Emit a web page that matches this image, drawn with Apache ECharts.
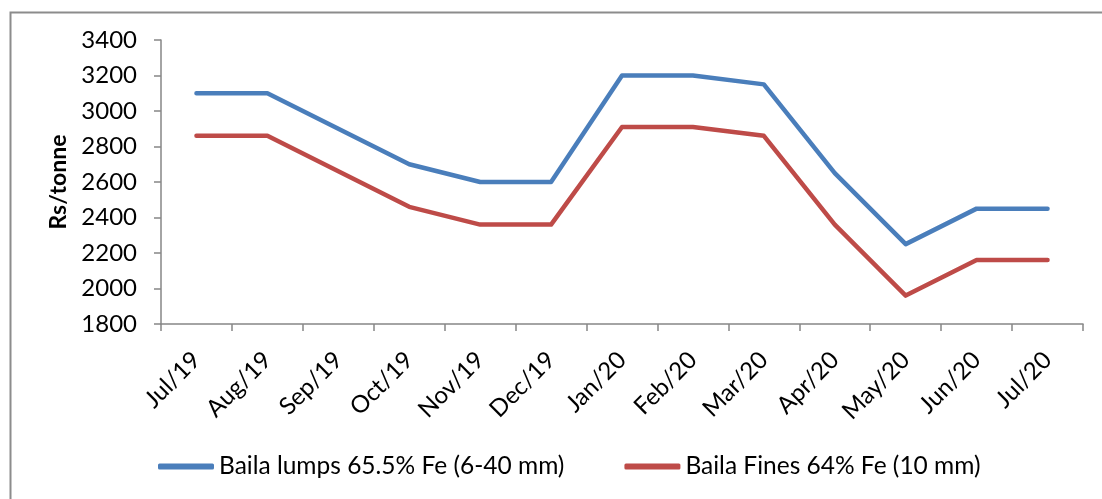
<!DOCTYPE html>
<html>
<head>
<meta charset="utf-8">
<script src="https://cdn.jsdelivr.net/npm/echarts@6/dist/echarts.min.js"></script>
<style>
html,body{margin:0;padding:0;background:#fff;}
#c{width:1102px;height:499px;}
</style>
</head>
<body>
<div id="c"></div>
<script>
var categories = ['Jul/19','Aug/19','Sep/19','Oct/19','Nov/19','Dec/19','Jan/20','Feb/20','Mar/20','Apr/20','May/20','Jun/20','Jul/20'];
var lumps = [3100, 3100, 2900, 2700, 2600, 2600, 3200, 3200, 3150, 2650, 2250, 2450, 2450];
var fines = [2860, 2860, 2660, 2460, 2360, 2360, 2910, 2910, 2860, 2360, 1960, 2160, 2160];
var seriesNames = ['Baila lumps 65.5% Fe (6-40 mm)', 'Baila Fines 64% Fe (10 mm)'];
var yTicks = {min: 1800, max: 3400, interval: 200};

var FONT = 'Lato';
var chart = echarts.init(document.getElementById('c'), null, {renderer: 'canvas'});
chart.setOption({
  animation: false,
  backgroundColor: '#fff',
  graphic: [{
    type: 'rect', left: 8, top: 10, silent: true,
    shape: {width: 1200, height: 600},
    style: {fill: 'none', stroke: '#8c8c8c', lineWidth: 2}
  }],
  grid: {left: 161, right: 19, top: 40, bottom: 175, containLabel: false},
  legend: {
    bottom: 15, left: 153,
    itemWidth: 56, itemHeight: 6, itemGap: 60,
    icon: 'roundRect',
    textStyle: {fontFamily: FONT, fontSize: 24.5, color: '#000'},
    data: seriesNames
  },
  xAxis: {
    type: 'category', data: categories, boundaryGap: true,
    axisLine: {lineStyle: {color: '#868686', width: 1.5}},
    axisTick: {show: true, alignWithLabel: false, length: 7, lineStyle: {color: '#868686', width: 1.5}},
    axisLabel: {rotate: 45, margin: 32, fontFamily: FONT, fontSize: 24, color: '#000', interval: 0},
    splitLine: {show: false}
  },
  yAxis: {
    type: 'value', min: yTicks.min, max: yTicks.max, interval: yTicks.interval,
    name: 'Rs/tonne', nameLocation: 'middle', nameGap: 89, nameRotate: 90,
    nameTextStyle: {fontFamily: FONT, fontSize: 23, fontWeight: 'bold', color: '#000'},
    axisLine: {show: true, lineStyle: {color: '#868686', width: 1.5}},
    axisTick: {show: true, length: 7, lineStyle: {color: '#868686', width: 1.5}},
    axisLabel: {margin: 24, fontFamily: FONT, fontSize: 24, color: '#000',
      formatter: function (v) { return String(v); }},
    splitLine: {show: false}
  },
  series: [
    {name: seriesNames[0], type: 'line', data: lumps, showSymbol: false, symbol: 'none',
     itemStyle: {color: '#4A7EBB'},
     lineStyle: {color: '#4A7EBB', width: 4.5, cap: 'round', join: 'round'}},
    {name: seriesNames[1], type: 'line', data: fines, showSymbol: false, symbol: 'none',
     itemStyle: {color: '#BE4B48'},
     lineStyle: {color: '#BE4B48', width: 4.5, cap: 'round', join: 'round'}}
  ]
});
</script>
</body>
</html>
